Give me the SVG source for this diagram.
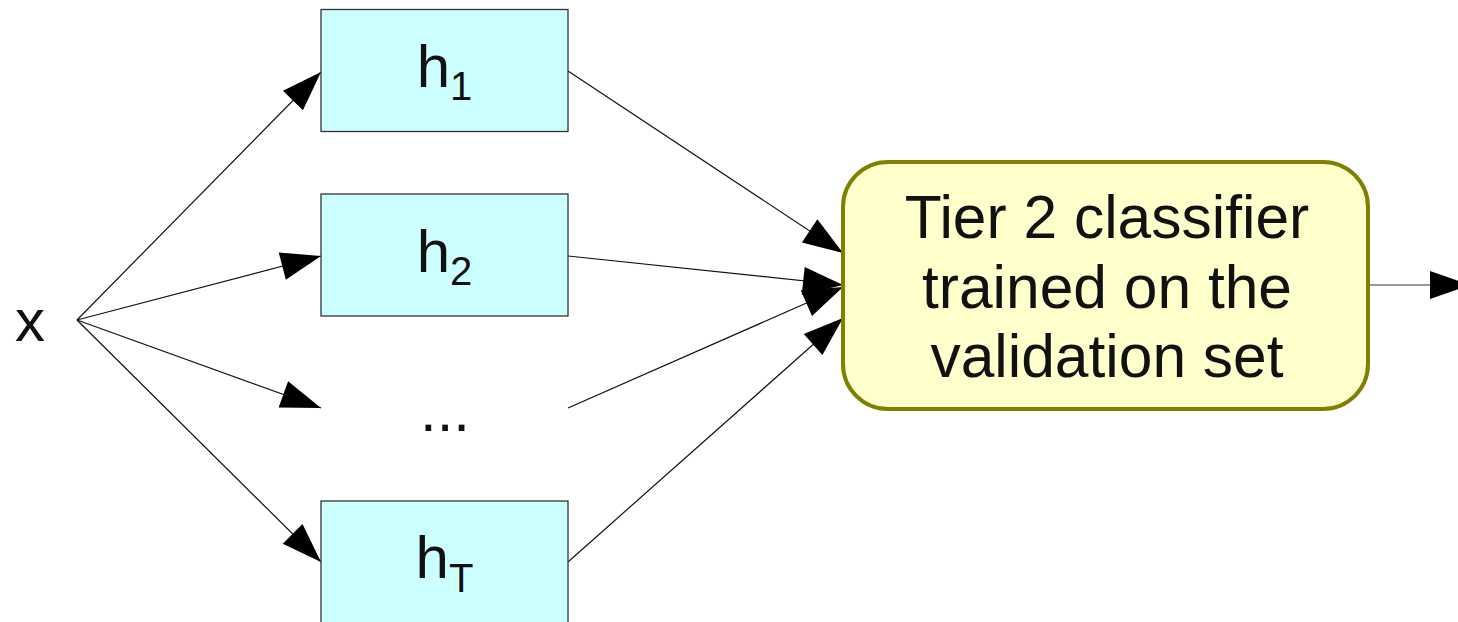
<svg xmlns="http://www.w3.org/2000/svg" width="1458" height="622" viewBox="0 0 1458 622">
  <style>
    .t { font-family: "Liberation Sans", Arial, sans-serif; fill: #111; }
    .hbox { fill: #ccffff; stroke: #333; stroke-width: 1.3; }
    .conn { fill: none; stroke: #111; stroke-width: 1.2; }
  </style>
  <defs>
    <marker id="ah" markerUnits="userSpaceOnUse" markerWidth="40" markerHeight="28" refX="40" refY="14" orient="auto" overflow="visible">
      <path d="M0,0 L40,14 L0,28 z" fill="#000"/>
    </marker>
  </defs>
  <rect width="1458" height="622" fill="#fff"/>

  <g id="connectors">
    <path class="conn" d="M77,320 L321,72" marker-end="url(#ah)"/>
    <path class="conn" d="M77,320 L321,256" marker-end="url(#ah)"/>
    <path class="conn" d="M77,320 L321,408" marker-end="url(#ah)"/>
    <path class="conn" d="M77,320 L321,562" marker-end="url(#ah)"/>
    <path class="conn" d="M568,71 L843,253" marker-end="url(#ah)"/>
    <path class="conn" d="M568,256 L843,285" marker-end="url(#ah)"/>
    <path class="conn" d="M568,408 L843,287" marker-end="url(#ah)"/>
    <path class="conn" d="M568,562 L843,318" marker-end="url(#ah)"/>
    <path d="M1368,285 L1470,285" fill="none" stroke="#777" stroke-width="1.4" marker-end="url(#ah)"/>
  </g>

  <g id="node-x">
    <text class="t" x="15" y="341" font-size="60">x</text>
  </g>

  <g id="node-h1">
    <rect class="hbox" x="321" y="9.5" width="247" height="122"/>
    <text class="t" x="444.5" y="87" font-size="60" text-anchor="middle">h<tspan font-size="40" dy="13">1</tspan></text>
  </g>

  <g id="node-h2">
    <rect class="hbox" x="321" y="194" width="247" height="122"/>
    <text class="t" x="444.5" y="272" font-size="60" text-anchor="middle">h<tspan font-size="40" dy="13">2</tspan></text>
  </g>

  <g id="node-dots">
    <text class="t" x="445" y="431" font-size="60" text-anchor="middle">...</text>
  </g>

  <g id="node-hT">
    <rect class="hbox" x="321" y="501" width="247" height="130"/>
    <text class="t" x="444.5" y="578" font-size="60" text-anchor="middle">h<tspan font-size="40" dy="14">T</tspan></text>
  </g>

  <g id="node-classifier">
    <rect x="843" y="162" width="525" height="247" rx="45" ry="45" fill="#ffffcc" stroke="#808000" stroke-width="4"/>
    <text class="t" x="1107" y="238" font-size="60.5" text-anchor="middle">Tier 2 classifier</text>
    <text class="t" x="1107" y="308" font-size="60.5" text-anchor="middle">trained on the</text>
    <text class="t" x="1107" y="377" font-size="60.5" text-anchor="middle">validation set</text>
  </g>
</svg>
